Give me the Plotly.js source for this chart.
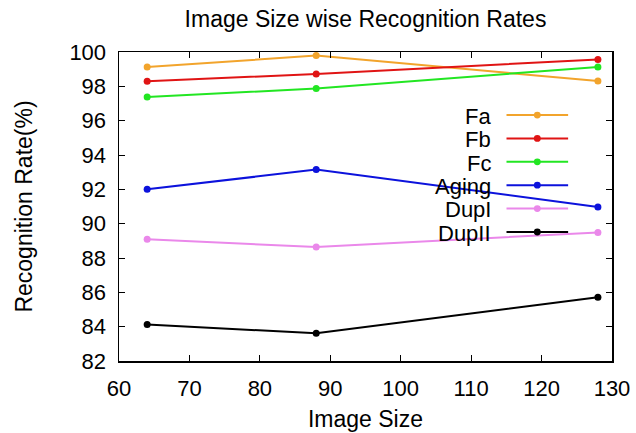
<!DOCTYPE html>
<html><head><meta charset="utf-8">
<script src="https://cdn.plot.ly/plotly-3.0.1.min.js"></script>
<style>html,body{margin:0;padding:0;background:#fff}#c{width:636px;height:433px}</style>
</head><body><div id="c"></div>
<script>
const imageSizes = [64, 88, 128];
const seriesNames = ["Fa", "Fb", "Fc", "Aging", "DupI", "DupII"];
const Fa = [99.13, 99.79, 98.31];
const Fb = [98.29, 98.72, 99.57];
const Fc = [97.38, 97.87, 99.13];
const Aging = [92.0, 93.15, 90.97];
const DupI = [89.09, 88.64, 89.49];
const DupII = [84.12, 83.62, 85.71];
const seriesValues = [Fa, Fb, Fc, Aging, DupI, DupII];
const colors = ["#f2a42c", "#e01414", "#22e622", "#0c12dc", "#ea88ea", "#000000"];

const FONT = "Liberation Sans, Arial, sans-serif";
const traces = seriesNames.map((n, i) => ({
  x: imageSizes, y: seriesValues[i], name: n, type: "scatter", mode: "lines+markers",
  line: {color: colors[i], width: 2}, marker: {color: colors[i], size: 7},
  showlegend: false
}));

// gnuplot-style key: text on the left, sample on the right
const annotations = [], shapes = [];
const keyTop = 0.796, keyStep = 0.0757;
seriesNames.forEach((n, i) => {
  const yy = keyTop - i * keyStep;
  annotations.push({xref: "paper", yref: "paper", x: 0.758, y: yy - 0.004, xanchor: "right", yanchor: "middle",
    text: n, showarrow: false, font: {family: FONT, size: 22, color: "#000"}});
  shapes.push({type: "line", xref: "paper", yref: "paper", x0: 0.786, x1: 0.911, y0: yy, y1: yy,
    line: {color: colors[i], width: 2}});
  shapes.push({type: "circle", xref: "paper", yref: "paper", x0: 0.8485 - 0.007, x1: 0.8485 + 0.007,
    y0: yy - 0.011, y1: yy + 0.011, fillcolor: colors[i], line: {color: colors[i], width: 0}});
});

const axisCommon = {showline: true, mirror: "ticks", linecolor: "#000", linewidth: 1.5,
  ticks: "inside", ticklen: 6, tickcolor: "#000", showgrid: false, zeroline: false,
  tickfont: {family: FONT, size: 22, color: "#000"}};

const layout = {
  width: 636, height: 433,
  margin: {l: 119, r: 24, t: 52, b: 72},
  paper_bgcolor: "#fff", plot_bgcolor: "#fff",
  title: {text: "Image Size wise Recognition Rates", x: 0.5, xref: "paper", y: 0.956, yref: "container", yanchor: "middle",
    font: {family: FONT, size: 23, color: "#000"}},
  xaxis: Object.assign({}, axisCommon, {range: [60, 130], dtick: 10, tick0: 60, ticklabelstandoff: 7,
    title: {text: "Image Size", font: {family: FONT, size: 23, color: "#000"}, standoff: 11}}),
  yaxis: Object.assign({}, axisCommon, {range: [82, 100], dtick: 2, tick0: 82, ticklabelstandoff: 7,
    title: {text: "Recognition Rate(%)", font: {family: FONT, size: 23, color: "#000"}, standoff: 30}}),
  annotations: annotations, shapes: shapes, showlegend: false
};
Plotly.newPlot("c", traces, layout, {displayModeBar: false, staticPlot: true});
</script></body></html>
